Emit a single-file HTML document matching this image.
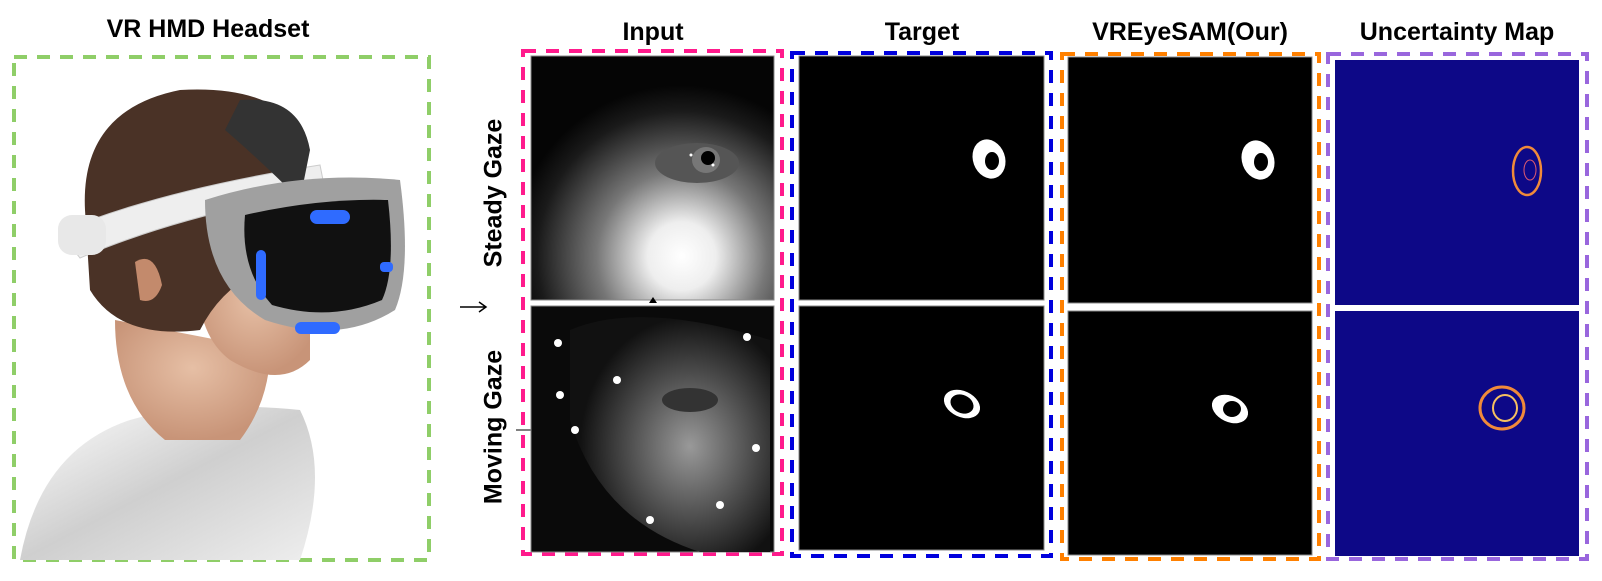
<!DOCTYPE html>
<html><head><meta charset="utf-8"><style>
body{margin:0;width:1602px;height:581px;background:#fff;position:relative;overflow:hidden;font-family:"Liberation Sans",Arial,sans-serif}
.t{position:absolute;font-weight:bold;font-size:25px;color:#000;white-space:nowrap;transform:translateX(-50%)}
.box{position:absolute;box-sizing:border-box}
.rl{position:absolute;font-weight:bold;font-size:25px;white-space:nowrap;transform:translate(-50%,-50%) rotate(-90deg)}
</style></head><body>
<div class="t" style="left:208px;top:15px">VR HMD Headset</div>
<div class="t" style="left:653px;top:18px">Input</div>
<div class="t" style="left:922px;top:18px">Target</div>
<div class="t" style="left:1190px;top:18px">VREyeSAM(Our)</div>
<div class="t" style="left:1457px;top:18px">Uncertainty Map</div>

<svg class="box" style="left:0;top:0" width="1602" height="581">
 <g fill="none" stroke-width="4" stroke-dasharray="13,10">
  <rect x="14" y="57" width="415" height="503" stroke="#8fce68"/>
  <rect x="523" y="51" width="259" height="503" stroke="#ff1a8c"/>
  <rect x="792" y="53" width="259" height="503" stroke="#0000dd"/>
  <rect x="1062" y="54" width="257" height="505" stroke="#ff8000"/>
  <rect x="1328" y="54" width="259" height="505" stroke="#9966dd"/>
 </g>
 <defs>
  <radialGradient id="sk" cx="0.5" cy="0.4" r="0.6"><stop offset="0" stop-color="#e6bfa5"/><stop offset="1" stop-color="#c89478"/></radialGradient>
  <linearGradient id="sh" x1="0" y1="0" x2="1" y2="1"><stop offset="0" stop-color="#fff"/><stop offset="0.5" stop-color="#cfcfcf"/><stop offset="1" stop-color="#eee"/></linearGradient>
  <radialGradient id="e1" cx="0.62" cy="0.82" r="0.7"><stop offset="0" stop-color="#fff"/><stop offset="0.2" stop-color="#eee"/><stop offset="0.5" stop-color="#777"/><stop offset="0.85" stop-color="#1a1a1a"/><stop offset="1" stop-color="#050505"/></radialGradient>
  <radialGradient id="e2" cx="0.6" cy="0.55" r="0.55"><stop offset="0" stop-color="#999"/><stop offset="0.5" stop-color="#555"/><stop offset="1" stop-color="#111"/></radialGradient>
 </defs>
 <g>
  <path d="M20 560 Q40 450 130 420 Q200 400 300 410 Q330 470 300 560 Z" fill="url(#sh)"/>
  <path d="M115 320 Q115 400 165 440 L240 440 Q270 400 270 350 Z" fill="url(#sk)"/>
  <path d="M200 250 Q190 330 230 360 Q280 390 310 360 L310 300 Z" fill="url(#sk)"/>
  <path d="M85 210 Q80 110 180 90 Q270 85 300 130 L300 260 Q230 270 200 330 Q120 340 90 290 Z" fill="#4a3226"/>
  <path d="M135 262 Q155 250 162 285 Q155 305 140 300 Z" fill="#c38a6c"/>
  <path d="M60 232 Q160 190 320 165 L325 190 Q180 215 80 258 Z" fill="#eee" stroke="#ccc"/>
  <rect x="58" y="215" width="48" height="40" rx="14" fill="#e8e8e8"/>
  <path d="M240 100 Q300 95 310 150 L300 200 Q260 160 225 130 Z" fill="#333"/>
  <path d="M205 200 Q300 170 400 180 Q412 270 395 310 Q340 345 265 320 Q205 285 205 200 Z" fill="#a0a0a0"/>
  <path d="M245 215 Q320 198 388 200 Q396 270 382 300 Q330 322 272 305 Q240 270 245 215 Z" fill="#111"/>
  <rect x="310" y="210" width="40" height="14" rx="7" fill="#2f6bff"/>
  <rect x="295" y="322" width="45" height="12" rx="6" fill="#2f6bff"/>
  <rect x="256" y="250" width="10" height="50" rx="5" fill="#2f6bff"/>
  <rect x="380" y="262" width="13" height="10" rx="4" fill="#2f6bff"/>
 </g>
 <path d="M460 307 H485 M479 302 L486 307 L479 312" stroke="#000" stroke-width="1.5" fill="none"/>
 <line x1="516" y1="430" x2="531" y2="430" stroke="#000"/>

 <g>
  <rect x="531" y="56" width="243" height="244" fill="url(#e1)" stroke="#888"/>
  <ellipse cx="697" cy="163" rx="42" ry="20" fill="#555"/>
  <ellipse cx="706" cy="160" rx="14" ry="13" fill="#777"/>
  <circle cx="708" cy="158" r="7" fill="#000"/>
  <circle cx="691" cy="155" r="1.5" fill="#fff"/><circle cx="713" cy="165" r="1.5" fill="#fff"/>
 </g>
 <g>
  <rect x="531" y="306" width="243" height="246" fill="#0a0a0a" stroke="#888"/>
  <path d="M570 330 Q640 300 770 340 L770 552 L700 552 Q600 520 570 420 Z" fill="url(#e2)"/>
  <ellipse cx="690" cy="400" rx="28" ry="12" fill="#333"/>
  <g fill="#fff"><circle cx="558" cy="343" r="4"/><circle cx="560" cy="395" r="4"/><circle cx="575" cy="430" r="4"/><circle cx="617" cy="380" r="4"/><circle cx="747" cy="337" r="4"/><circle cx="756" cy="448" r="4"/><circle cx="720" cy="505" r="4"/><circle cx="650" cy="520" r="4"/></g>
 </g>
 <polygon points="653,297 649,303 657,303" fill="#000"/>

 <g><rect x="799" y="56" width="245" height="244" fill="#000" stroke="#888"/>
  <ellipse cx="989" cy="159" rx="16" ry="20" fill="#fff" transform="rotate(-20 989 159)"/><ellipse cx="992" cy="161" rx="7" ry="9" fill="#000"/></g>
 <g><rect x="799" y="306" width="245" height="244" fill="#000" stroke="#888"/>
  <ellipse cx="962" cy="404" rx="19" ry="13" fill="#fff" transform="rotate(25 962 404)"/><ellipse cx="962" cy="404" rx="12" ry="9" fill="#000" transform="rotate(25 962 404)"/></g>
 <g><rect x="1068" y="57" width="244" height="246" fill="#000" stroke="#888"/>
  <ellipse cx="1258" cy="160" rx="16" ry="20" fill="#fff" transform="rotate(-20 1258 160)"/><ellipse cx="1261" cy="162" rx="7" ry="9" fill="#000"/></g>
 <g><rect x="1068" y="311" width="244" height="244" fill="#000" stroke="#888"/>
  <ellipse cx="1230" cy="409" rx="19" ry="13" fill="#fff" transform="rotate(25 1230 409)"/><ellipse cx="1232" cy="409" rx="9" ry="8" fill="#000"/></g>
 <g><rect x="1335" y="60" width="244" height="245" fill="#0d0887"/>
  <ellipse cx="1527" cy="171" rx="14" ry="24" fill="none" stroke="#f08a3a" stroke-width="2.5"/><ellipse cx="1530" cy="170" rx="6" ry="10" fill="none" stroke="#e05a70" stroke-width="1"/></g>
 <g><rect x="1335" y="311" width="244" height="245" fill="#0d0887"/>
  <ellipse cx="1502" cy="408" rx="22" ry="21" fill="none" stroke="#f08a3a" stroke-width="3"/><ellipse cx="1505" cy="408" rx="12" ry="13" fill="none" stroke="#f6c060" stroke-width="2"/></g>
</svg>
<div class="rl" style="left:494px;top:193px">Steady Gaze</div>
<div class="rl" style="left:494px;top:427px">Moving Gaze</div>
</body></html>
